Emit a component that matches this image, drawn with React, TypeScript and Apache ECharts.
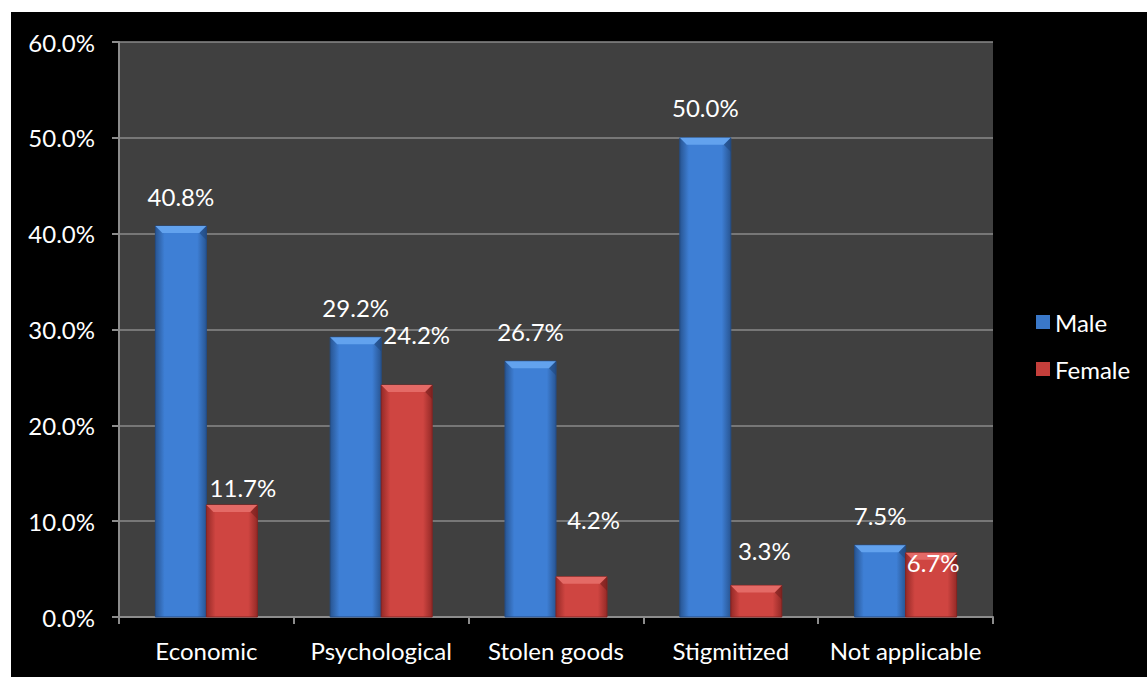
import React, { useEffect, useRef } from "react";
import * as echarts from "echarts";

const categories = ["Economic", "Psychological", "Stolen goods", "Stigmitized", "Not applicable"];
const maleValues = [40.8, 29.2, 26.7, 50.0, 7.5];
const femaleValues = [11.7, 24.2, 4.2, 3.3, 6.7];
const yTicks = [0, 10, 20, 30, 40, 50, 60];

// Per-bar nudges for the Female value labels, which sit off-centre.
const femaleLabelOffsets: [number, number][] = [
  [11, 13],
  [10, -21],
  [12, -27],
  [8, -5],
  [2, 40],
];

const FONT = "Lato, 'Open Sans', sans-serif";
const FS = 24;
const BAR_W = 51;
const BEVEL = 7;

const MALE = { edge: "#285592", mid: "#3e7fd5", border: "#244d86", light: "#62a2ee", dark: "#1d4478", icon: "#3a78c9" };
const FEMALE = { edge: "#952a27", mid: "#cf4541", border: "#852422", light: "#e46a66", dark: "#6e1c1a", icon: "#c43f3b" };

const hGrad = (edge: string, mid: string) =>
  new echarts.graphic.LinearGradient(0, 0, 1, 0, [
    { offset: 0, color: edge },
    { offset: 0.18, color: mid },
    { offset: 0.82, color: mid },
    { offset: 1, color: edge },
  ]);

// Shaded bar body with a bevelled cap; side = -1 for the left bar, +1 for the right one.
const shadedBars = (values: number[], side: number, pal: typeof MALE) => ({
  type: "custom",
  silent: true,
  z: 2,
  data: values.map((v, i) => [i, v]),
  renderItem: (params: any, api: any) => {
    const p = api.coord([api.value(0), api.value(1)]);
    const base = api.coord([api.value(0), 0]);
    const x0 = side < 0 ? p[0] - BAR_W : p[0];
    const x1 = x0 + BAR_W;
    const y = p[1];
    const h = base[1] - y;
    return {
      type: "group",
      children: [
        {
          type: "rect",
          shape: { x: x0, y, width: BAR_W, height: h },
          style: { fill: hGrad(pal.edge, pal.mid), stroke: pal.border, lineWidth: 1 },
        },
        {
          type: "polygon",
          shape: {
            points: [
              [x0, y],
              [x1, y],
              [x1 - BEVEL, y + BEVEL],
              [x0 + BEVEL, y + BEVEL],
            ],
          },
          style: { fill: pal.light },
        },
        {
          type: "polygon",
          shape: {
            points: [
              [x1, y],
              [x1, y + BEVEL * 2],
              [x1 - BEVEL, y + BEVEL],
            ],
          },
          style: { fill: pal.dark, opacity: 0.5 },
        },
      ],
    };
  },
});

export default function App() {
  const ref = useRef<HTMLDivElement>(null);

  useEffect(() => {
    if (!ref.current) return;
    const chart = echarts.init(ref.current, null, { renderer: "svg" });
    const fmt = (v: number) => v.toFixed(1) + "%";

    const labelStyle = {
      show: true,
      position: "top",
      distance: 18,
      color: "#ffffff",
      fontSize: FS,
      fontFamily: FONT,
      formatter: (p: any) => fmt(p.value),
    };

    chart.setOption({
      animation: false,
      backgroundColor: "#000000",
      textStyle: { fontFamily: FONT },
      grid: {
        left: 108,
        top: 30,
        right: 154,
        bottom: 60,
        show: true,
        backgroundColor: "#404040",
        borderWidth: 0,
      },
      legend: {
        orient: "vertical",
        left: 1025,
        top: 298,
        padding: 0,
        itemWidth: 14,
        itemHeight: 14,
        itemGap: 23,
        icon: "rect",
        textStyle: { color: "#ffffff", fontSize: FS, fontFamily: FONT },
        data: [
          { name: "Male", itemStyle: { color: MALE.icon, opacity: 1 } },
          { name: "Female", itemStyle: { color: FEMALE.icon, opacity: 1 } },
        ],
      },
      xAxis: {
        type: "category",
        data: categories,
        axisLine: { lineStyle: { color: "#8c8c8c", width: 2 } },
        axisTick: { show: true, length: 7, lineStyle: { color: "#8c8c8c", width: 2 } },
        axisLabel: { color: "#ffffff", fontSize: FS, margin: 21, interval: 0, fontFamily: FONT },
      },
      yAxis: {
        type: "value",
        min: yTicks[0],
        max: yTicks[yTicks.length - 1],
        interval: 10,
        axisLine: { show: true, lineStyle: { color: "#8c8c8c", width: 2 } },
        axisTick: { show: true, length: 7, lineStyle: { color: "#8c8c8c", width: 2 } },
        splitLine: { lineStyle: { color: "#8a8a8a", width: 1.5 } },
        axisLabel: {
          color: "#ffffff",
          fontSize: FS,
          margin: 24,
          fontFamily: FONT,
          formatter: (v: number) => fmt(v),
        },
      },
      series: [
        shadedBars(maleValues, -1, MALE),
        shadedBars(femaleValues, 1, FEMALE),
        {
          name: "Male",
          type: "bar",
          z: 3,
          barWidth: BAR_W,
          barGap: "0%",
          data: maleValues,
          itemStyle: { color: "rgba(0,0,0,0)" },
          label: labelStyle,
        },
        {
          name: "Female",
          type: "bar",
          z: 3,
          barWidth: BAR_W,
          data: femaleValues.map((v, i) => ({
            value: v,
            label: { offset: femaleLabelOffsets[i] },
          })),
          itemStyle: { color: "rgba(0,0,0,0)" },
          label: labelStyle,
        },
      ],
    });

    return () => chart.dispose();
  }, []);

  return (
    <div
      style={{
        position: "fixed",
        left: 0,
        top: 0,
        width: 1147,
        height: 677,
        background: "#ffffff",
      }}
    >
      <div
        ref={ref}
        style={{ position: "absolute", left: 11, top: 12, width: 1136, height: 665 }}
      />
    </div>
  );
}
